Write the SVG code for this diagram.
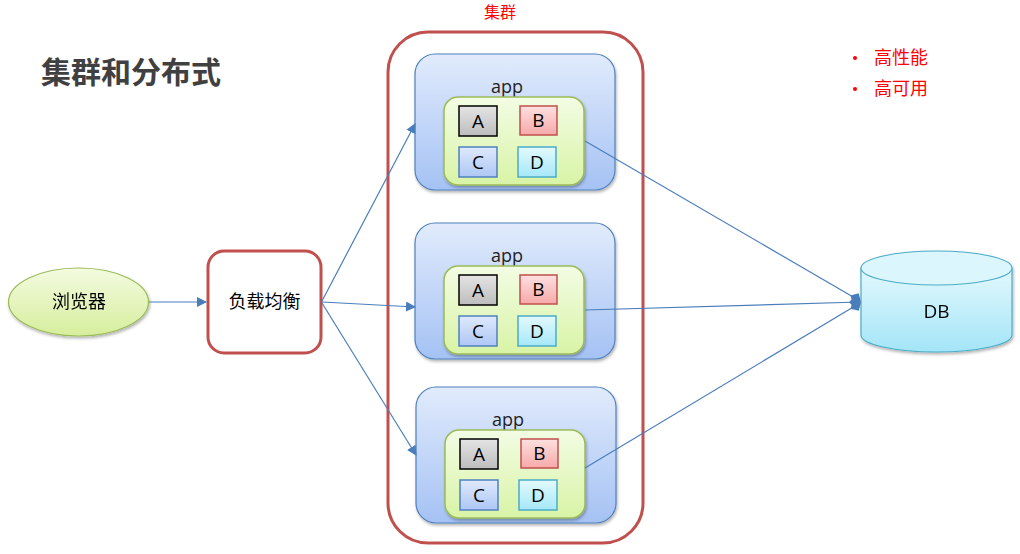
<svg xmlns="http://www.w3.org/2000/svg" width="1020" height="554" viewBox="0 0 1020 554">
<defs>
<linearGradient id="gApp" x1="0" y1="0" x2="0" y2="1"><stop offset="0" stop-color="#e1ebfc"/><stop offset="1" stop-color="#a5c2f4"/></linearGradient>
<linearGradient id="gGreen" x1="0" y1="0" x2="0" y2="1"><stop offset="0" stop-color="#f3fce4"/><stop offset="1" stop-color="#d8f4a6"/></linearGradient>
<linearGradient id="gA" x1="0" y1="0" x2="0" y2="1"><stop offset="0" stop-color="#e4e4e4"/><stop offset="1" stop-color="#bdbdbd"/></linearGradient>
<linearGradient id="gB" x1="0" y1="0" x2="0" y2="1"><stop offset="0" stop-color="#fde0e0"/><stop offset="1" stop-color="#f7a9a9"/></linearGradient>
<linearGradient id="gC" x1="0" y1="0" x2="0" y2="1"><stop offset="0" stop-color="#dfe9fc"/><stop offset="1" stop-color="#adc7f5"/></linearGradient>
<linearGradient id="gD" x1="0" y1="0" x2="0" y2="1"><stop offset="0" stop-color="#e3f9fd"/><stop offset="1" stop-color="#a6e8f8"/></linearGradient>
<linearGradient id="gDB" x1="0" y1="0" x2="0" y2="1"><stop offset="0" stop-color="#e2f8fd"/><stop offset="1" stop-color="#a4e5f7"/></linearGradient>
<linearGradient id="gBr" x1="0" y1="0" x2="0" y2="1"><stop offset="0" stop-color="#f4fbe0"/><stop offset="1" stop-color="#d6ee9c"/></linearGradient>
<filter id="sh" x="-10%" y="-10%" width="130%" height="130%"><feDropShadow dx="1" dy="2" stdDeviation="1.5" flood-color="#000" flood-opacity="0.3"/></filter>
<marker id="arr" viewBox="0 0 10 10" refX="9" refY="5" markerWidth="10" markerHeight="10" markerUnits="userSpaceOnUse" orient="auto"><path d="M0,0 L10,5 L0,10 z" fill="#4a7ebb"/></marker>
<marker id="dia" viewBox="0 0 12 12" refX="11" refY="6" markerWidth="12" markerHeight="12" markerUnits="userSpaceOnUse" orient="auto"><path d="M0,6 L6,0 L12,6 L6,12 z" fill="#4a7ebb"/></marker>
</defs>
<style>
.cn{font-family:"Noto Sans CJK SC","Microsoft YaHei",sans-serif}
.lt{font-family:"Open Sans","Liberation Sans",sans-serif}
.app{fill:url(#gApp);stroke:#4f81bd;stroke-width:1.2}
.grn{fill:url(#gGreen);stroke:#9bbb59;stroke-width:1.5}
.sq{stroke-width:1.5}
.lbl{font-size:19px;text-anchor:middle;fill:#000}
.con{stroke:#4a7ebb;stroke-width:1.2;fill:none}
</style>
<rect width="1020" height="554" fill="#fff"/>
<text x="41" y="83" class="cn" font-size="30" font-weight="bold" fill="#404040">集群和分布式</text>
<g id="cluster">
<rect x="388" y="32" width="255" height="511" rx="40" fill="none" stroke="#c0504d" stroke-width="3"/>
<text x="500" y="18" class="cn" font-size="16" fill="#ff0000" text-anchor="middle">集群</text>
</g>
<g id="features" class="cn" fill="#ff0000">
<circle cx="855" cy="58" r="2"/><text x="874" y="64" font-size="18">高性能</text>
<circle cx="855" cy="89" r="2"/><text x="874" y="95" font-size="18">高可用</text>
</g>
<g id="browser" filter="url(#sh)">
<ellipse cx="78.5" cy="302" rx="70" ry="34" fill="url(#gBr)" stroke="#9bbb59" stroke-width="1.2"/>
<text x="79" y="308" class="cn" font-size="18" text-anchor="middle" fill="#000">浏览器</text>
</g>
<g id="lb">
<rect x="208" y="251" width="113" height="102" rx="16" fill="#fff" stroke="#c0504d" stroke-width="3"/>
<text x="264.5" y="308" class="cn" font-size="18" text-anchor="middle" fill="#000">负载均衡</text>
</g>
<g id="app1">
<rect x="415" y="54" width="200" height="136" rx="20" class="app" filter="url(#sh)"/>
<text x="507" y="93" class="lt" font-size="18" text-anchor="middle" fill="#222">app</text>
<rect x="444" y="97" width="140" height="88" rx="14" class="grn" filter="url(#sh)"/>
<rect x="459" y="106" width="38" height="30" fill="url(#gA)" stroke="#000" class="sq"/>
<rect x="520" y="106" width="37" height="29" fill="url(#gB)" stroke="#c0504d" class="sq"/>
<rect x="459" y="147" width="38" height="30" fill="url(#gC)" stroke="#4f81bd" class="sq"/>
<rect x="518" y="147" width="38" height="30" fill="url(#gD)" stroke="#4bacc6" class="sq"/>
<text x="478" y="128" class="lt lbl">A</text><text x="538.5" y="127" class="lt lbl">B</text>
<text x="478" y="169" class="lt lbl">C</text><text x="537" y="169" class="lt lbl">D</text>
</g>
<g id="app2" transform="translate(0,169)">
<rect x="415" y="54" width="200" height="136" rx="20" class="app" filter="url(#sh)"/>
<text x="507" y="93" class="lt" font-size="18" text-anchor="middle" fill="#222">app</text>
<rect x="444" y="97" width="140" height="88" rx="14" class="grn" filter="url(#sh)"/>
<rect x="459" y="106" width="38" height="30" fill="url(#gA)" stroke="#000" class="sq"/>
<rect x="520" y="106" width="37" height="29" fill="url(#gB)" stroke="#c0504d" class="sq"/>
<rect x="459" y="147" width="38" height="30" fill="url(#gC)" stroke="#4f81bd" class="sq"/>
<rect x="518" y="147" width="38" height="30" fill="url(#gD)" stroke="#4bacc6" class="sq"/>
<text x="478" y="128" class="lt lbl">A</text><text x="538.5" y="127" class="lt lbl">B</text>
<text x="478" y="169" class="lt lbl">C</text><text x="537" y="169" class="lt lbl">D</text>
</g>
<g id="app3" transform="translate(1,333)">
<rect x="415" y="54" width="200" height="136" rx="20" class="app" filter="url(#sh)"/>
<text x="507" y="93" class="lt" font-size="18" text-anchor="middle" fill="#222">app</text>
<rect x="444" y="97" width="140" height="88" rx="14" class="grn" filter="url(#sh)"/>
<rect x="459" y="106" width="38" height="30" fill="url(#gA)" stroke="#000" class="sq"/>
<rect x="520" y="106" width="37" height="29" fill="url(#gB)" stroke="#c0504d" class="sq"/>
<rect x="459" y="147" width="38" height="30" fill="url(#gC)" stroke="#4f81bd" class="sq"/>
<rect x="518" y="147" width="38" height="30" fill="url(#gD)" stroke="#4bacc6" class="sq"/>
<text x="478" y="128" class="lt lbl">A</text><text x="538.5" y="127" class="lt lbl">B</text>
<text x="478" y="169" class="lt lbl">C</text><text x="537" y="169" class="lt lbl">D</text>
</g>
<g id="db" filter="url(#sh)">
<path d="M861,268 L861,335 A75.5,17 0 0 0 1012,335 L1012,268" fill="url(#gDB)" stroke="#4bacc6" stroke-width="1.2"/>
<ellipse cx="936.5" cy="268" rx="75.5" ry="17" fill="#dcf6fd" stroke="#4bacc6" stroke-width="1.2"/>
<text x="936.5" y="318" class="lt" font-size="19" text-anchor="middle" fill="#000">DB</text>
</g>
<g id="connectors">
<line x1="149" y1="302" x2="206" y2="302" class="con" marker-end="url(#arr)"/>
<line x1="322" y1="301" x2="415" y2="124" class="con" marker-end="url(#arr)"/>
<line x1="322" y1="302" x2="415" y2="307" class="con" marker-end="url(#arr)"/>
<line x1="322" y1="303" x2="416" y2="455" class="con" marker-end="url(#arr)"/>
<line x1="585" y1="141" x2="860" y2="301" class="con" marker-end="url(#dia)"/>
<line x1="585" y1="310" x2="860" y2="302" class="con" marker-end="url(#dia)"/>
<line x1="585" y1="468" x2="860" y2="303" class="con" marker-end="url(#dia)"/>
</g>
</svg>
